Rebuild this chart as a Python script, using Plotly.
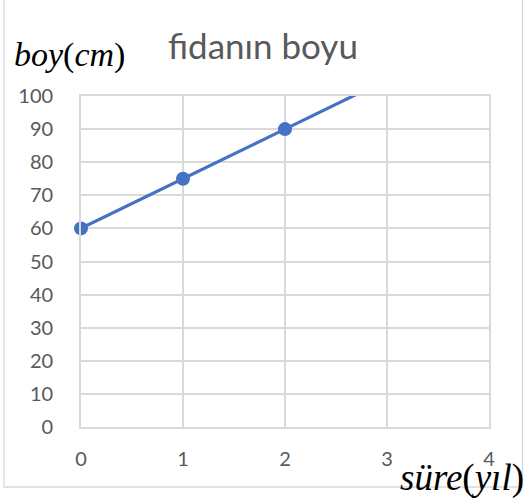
import plotly.graph_objects as go

# Data
years = [0, 1, 2]
heights = [60, 75, 90]
# trend continuation beyond the last point (clipped at the top of the axis)
ext_years = [2, 3]
ext_heights = [90, 105]

x_ticks = [0, 1, 2, 3, 4]
y_ticks = [0, 10, 20, 30, 40, 50, 60, 70, 80, 90, 100]

BLUE = "#4472C4"
GRID = "#d9d9d9"
TXT = "#595959"

fig = go.Figure()
fig.add_trace(go.Scatter(x=ext_years, y=ext_heights, mode="lines",
                         line=dict(color=BLUE, width=3.2), hoverinfo="skip",
                         showlegend=False))
fig.add_trace(go.Scatter(x=years, y=heights, mode="lines+markers",
                         line=dict(color=BLUE, width=3.2),
                         marker=dict(color=BLUE, size=14),
                         showlegend=False, cliponaxis=False))

W, H = 524, 502
L, R, T, B = 81, 35, 96, 75
pw, ph = W - L - R, H - T - B

def px(x):
    return (x - L) / pw

def py(y):
    return (H - B - y) / ph

fig.add_shape(type="rect", xref="paper", yref="paper",
              x0=px(4), x1=px(522.5), y0=py(487), y1=py(-2),
              line=dict(color=GRID, width=1.3), layer="below")

fig.add_annotation(text="fidanın boyu", xref="paper", yref="paper",
                   x=px(263), y=py(45), xanchor="center", yanchor="middle",
                   showarrow=False,
                   font=dict(family="Lato, Open Sans, sans-serif", size=35, color=TXT))
fig.add_annotation(text="<i>boy</i>(<i>cm</i>)", xref="paper", yref="paper",
                   x=px(12), y=py(55), xanchor="left", yanchor="middle",
                   showarrow=False,
                   font=dict(family="Liberation Serif, serif", size=34, color="black"))
fig.add_annotation(text="<i>süre</i>(<i>yıl</i>)", xref="paper", yref="paper",
                   x=px(526), y=py(478), xanchor="right", yanchor="middle",
                   showarrow=False,
                   font=dict(family="Liberation Serif, serif", size=37, color="black"))

fig.update_xaxes(range=[0, 4], tickvals=x_ticks, showgrid=True, gridcolor=GRID,
                 gridwidth=1.8, showline=True, linecolor=GRID, linewidth=1.8,
                 mirror=True, zeroline=False, ticks="outside", ticklen=0,
                 ticklabelstandoff=13,
                 tickfont=dict(family="Lato, Open Sans, sans-serif", size=20, color=TXT))
fig.update_yaxes(range=[0, 100], tickvals=y_ticks, showgrid=True, gridcolor=GRID,
                 gridwidth=1.8, showline=True, linecolor=GRID, linewidth=1.8,
                 mirror=True, zeroline=False, ticks="outside", ticklen=0,
                 ticklabelstandoff=22,
                 tickfont=dict(family="Lato, Open Sans, sans-serif", size=20, color=TXT))

fig.update_layout(width=W, height=H, margin=dict(l=L, r=R, t=T, b=B),
                  paper_bgcolor="white", plot_bgcolor="white")

fig.write_html("out.html", config={"displayModeBar": False},
               post_script="document.body.style.margin='0px';")
